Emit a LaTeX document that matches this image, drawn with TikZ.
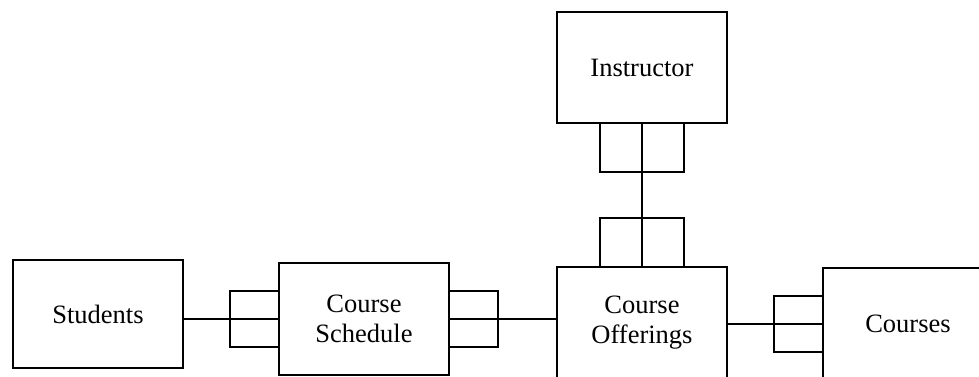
\documentclass[tikz,border=0pt]{standalone}
\usepackage{fontspec}
\setmainfont{Liberation Serif}
\usetikzlibrary{positioning}

\begin{document}
\begin{tikzpicture}[x=1pt,y=-1pt,line width=1.2pt,
		entity/.style={draw,rectangle,align=center,inner sep=0pt,outer sep=0pt,
			minimum width=170pt,minimum height=112pt,
			font=\fontsize{26.5}{30}\selectfont},
		hfoot/.style={draw,rectangle,inner sep=0pt,outer sep=0pt,minimum width=49pt,minimum height=56pt},
		vfoot/.style={draw,rectangle,inner sep=0pt,outer sep=0pt,minimum width=84pt,minimum height=49pt}]
		\useasboundingbox (0,0) rectangle (979,377);
		\clip (0,0) rectangle (979,377);
		
		\node[entity,minimum height=108pt] (students) at (98,314) {Students};
		\node[entity] (schedule) [right=96pt of students,yshift=-5pt] {Course\\Schedule};
		\node[entity] (offerings) [right=108pt of schedule,yshift=-4pt] {Course\\Offerings};
		\node[entity] (courses) [right=96pt of offerings,yshift=-1pt] {Courses};
		\node[entity,minimum height=111pt] (instructor) [above=144pt of offerings] {Instructor};
		
		% crow's feet
		\node[hfoot,anchor=east] (schedfootL) at (schedule.west) {};
		\node[hfoot,anchor=west] (schedfootR) at (schedule.east) {};
		\node[hfoot,anchor=east] (coursefoot) at (courses.west) {};
		\node[vfoot,anchor=south] (offerfoot) at (offerings.north) {};
		\node[vfoot,anchor=north] (instrfoot) at (instructor.south) {};
		
		\draw (students.east |- schedule.west) -- (schedule.west);
		\draw (schedule.east) -- (offerings.west |- schedule.east);
		\draw (offerings.east |- courses.west) -- (courses.west);
		\draw (instructor.south) -- (offerings.north);
\end{tikzpicture}
\end{document}
